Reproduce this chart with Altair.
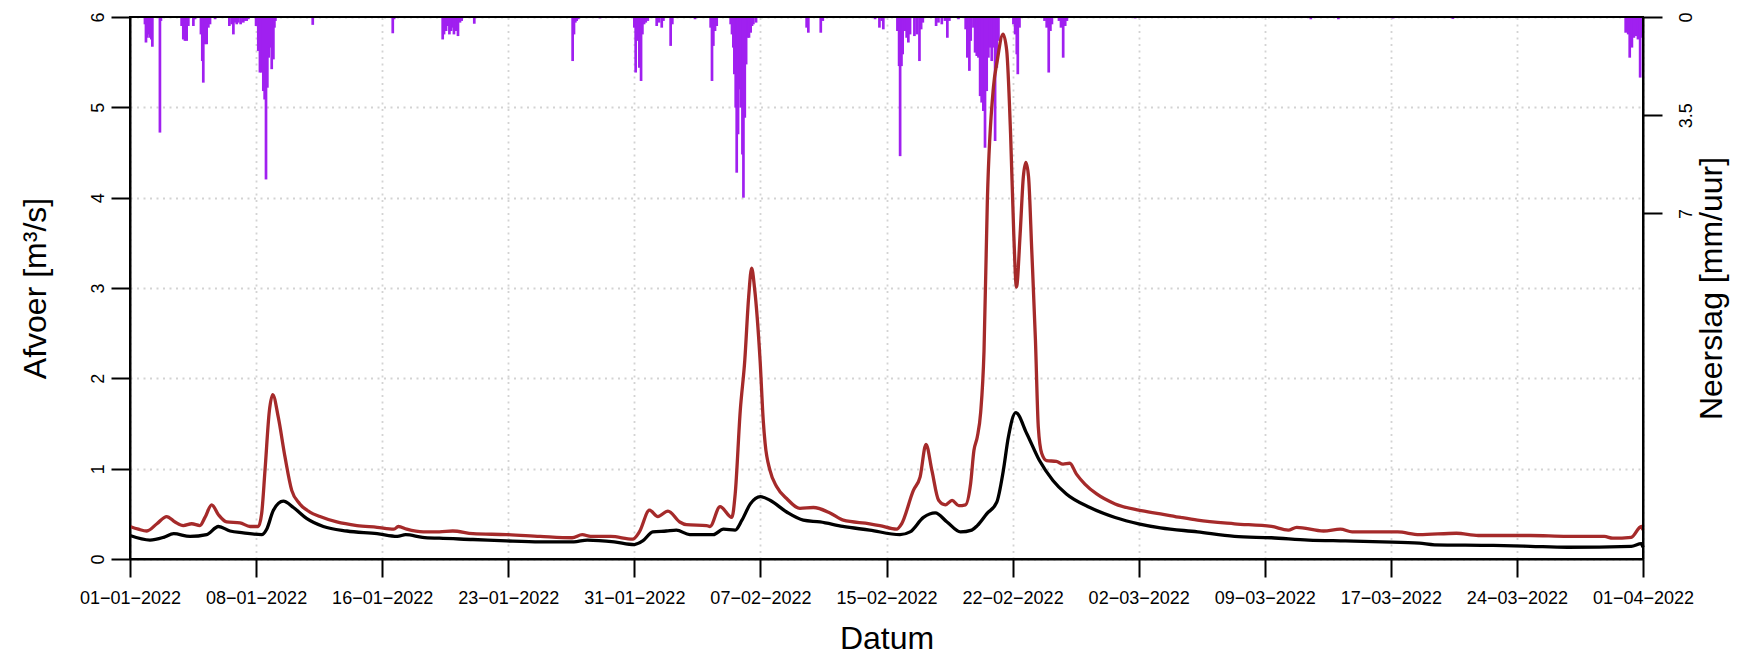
import altair as alt
import pandas as pd

# ---------------- data ----------------
# time = days since 01-01-2022 00:00
# Afvoer, brown series (m3/s)
q_brown_day = [
    0.0, 0.5, 1.0, 1.6, 2.18, 2.68, 3.17, 3.67, 4.16, 4.46,
    4.86, 5.26, 5.75, 6.54, 7.14, 7.63, 7.83, 8.03, 8.29, 8.49,
    8.82, 9.22, 9.62, 10.1, 10.7, 11.3, 12.3, 13.5, 14.7, 15.7,
    15.96, 16.46, 17.45, 18.4, 19.2, 20.4, 22.4, 24.4, 26.3, 26.9,
    27.4, 28.6, 29.9, 30.3, 30.9, 31.4, 32.0, 32.7, 33.1, 34.3,
    34.5, 35.1, 35.8, 36.0, 36.3, 36.57, 36.8, 36.98, 37.15, 37.48,
    37.67, 37.78, 38.07, 38.47, 39.06, 39.85, 40.65, 41.64, 42.43, 44.0,
    44.6, 45.6, 45.9, 46.6, 47.0, 47.35, 47.7, 48.1, 48.5, 48.9,
    49.3, 49.7, 50.0, 50.2, 50.4, 50.6, 50.8, 51.0, 51.36, 51.59,
    51.93, 52.15, 52.38, 52.57, 52.73, 52.95, 53.14, 53.29, 53.45, 53.64,
    53.86, 54.03, 54.23, 54.52, 55.1, 55.5, 55.9, 56.3, 56.8, 57.5,
    58.6, 60.0, 61.3, 62.5, 63.5, 65.7, 67.9, 68.9, 69.4, 71.0,
    72.0, 72.7, 75.4, 76.7, 78.9, 80.2, 83.3, 85.5, 87.7, 88.2,
    89.3, 89.9, 90.0,
]
q_brown_val = [
    0.36, 0.33, 0.31, 0.39, 0.47, 0.41, 0.37, 0.39, 0.37, 0.46,
    0.60, 0.49, 0.41, 0.40, 0.36, 0.36, 0.50, 0.98, 1.64, 1.82,
    1.57, 1.13, 0.76, 0.61, 0.52, 0.47, 0.41, 0.37, 0.35, 0.33,
    0.36, 0.33, 0.30, 0.30, 0.31, 0.28, 0.27, 0.25, 0.235, 0.27,
    0.25, 0.25, 0.22, 0.30, 0.54, 0.47, 0.53, 0.41, 0.38, 0.37,
    0.36, 0.58, 0.46, 0.72, 1.64, 2.2, 2.9, 3.22, 3.0, 2.2,
    1.53, 1.28, 0.98, 0.80, 0.67, 0.56, 0.57, 0.51, 0.43, 0.39,
    0.37, 0.33, 0.39, 0.76, 0.91, 1.27, 0.98, 0.65, 0.60, 0.65,
    0.59, 0.60, 0.83, 1.20, 1.35, 1.62, 2.3, 3.97, 5.22, 5.52,
    5.81, 5.63, 4.71, 3.6, 3.01, 3.6, 4.23, 4.39, 4.23, 3.42,
    2.42, 1.46, 1.17, 1.09, 1.08, 1.05, 1.06, 0.94, 0.83, 0.72,
    0.61, 0.54, 0.50, 0.46, 0.43, 0.39, 0.36, 0.32, 0.35, 0.31,
    0.33, 0.30, 0.30, 0.27, 0.285, 0.26, 0.26, 0.25, 0.25, 0.23,
    0.24, 0.36, 0.32,
]

# Afvoer, black series (m3/s)
q_black_day = [
    0.0, 1.19, 2.0, 2.6, 3.57, 4.56, 5.26, 5.95, 6.74, 7.83,
    8.13, 8.53, 9.12, 9.72, 10.5, 11.5, 12.9, 14.7, 15.9, 16.4,
    17.4, 18.4, 20.4, 22.4, 24.4, 26.4, 27.2, 28.8, 30.0, 30.5,
    31.1, 31.9, 32.5, 33.3, 34.7, 35.3, 36.0, 36.4, 36.9, 37.5,
    38.07, 39.06, 40.05, 41.05, 42.4, 44.0, 45.8, 46.4, 47.2, 47.9,
    48.6, 49.4, 50.07, 50.4, 50.96, 51.56, 51.95, 52.25, 52.69, 53.34,
    54.1, 54.9, 55.7, 57.1, 58.6, 60.0, 61.3, 63.5, 65.7, 67.9,
    70.1, 72.3, 74.5, 76.7, 77.6, 81.1, 83.3, 85.5, 89.3, 89.9,
    90.0,
]
q_black_val = [
    0.26, 0.21, 0.24, 0.28, 0.25, 0.27, 0.36, 0.31, 0.29, 0.27,
    0.33, 0.54, 0.64, 0.57, 0.45, 0.36, 0.31, 0.28, 0.25, 0.27,
    0.24, 0.23, 0.216, 0.20, 0.19, 0.19, 0.21, 0.19, 0.16, 0.20,
    0.30, 0.31, 0.32, 0.27, 0.27, 0.33, 0.32, 0.43, 0.61, 0.69,
    0.65, 0.52, 0.43, 0.41, 0.36, 0.32, 0.27, 0.30, 0.46, 0.51,
    0.41, 0.30, 0.32, 0.37, 0.50, 0.63, 0.98, 1.35, 1.62, 1.39,
    1.09, 0.87, 0.72, 0.57, 0.46, 0.39, 0.345, 0.30, 0.25, 0.235,
    0.21, 0.20, 0.19, 0.175, 0.157, 0.15, 0.14, 0.13, 0.14, 0.17,
    0.13,
]

# Neerslag (mm/uur), January
rain_jan_day = [
    0.89, 0.95, 1.03, 1.11, 1.19, 1.27, 1.33, 1.78, 1.84,
    3.07, 3.17, 3.27, 3.37, 3.47, 3.77, 3.87,
    4.22, 4.30, 4.36, 4.46, 4.56, 4.66, 4.76, 5.06,
    5.91, 6.05, 6.15, 6.25, 6.35, 6.44, 6.58, 6.74, 6.84, 6.94, 7.04,
    7.50, 7.63, 7.73, 7.83, 7.93, 8.01, 8.09, 8.17, 8.25, 8.33, 8.43, 8.53, 8.59, 8.65,
    10.87, 15.63, 15.71,
    18.60, 18.68, 18.80, 18.90, 19.00, 19.10, 19.19, 19.27, 19.39, 19.51, 19.63, 19.73,
    20.48, 26.33, 26.41, 26.49, 26.57, 26.67, 27.96,
    30.00, 30.08, 30.18, 30.30, 30.40, 30.48, 30.58, 30.68, 30.80,
]
rain_jan_mm = [
    0.26, 0.91, 0.74, 0.62, 0.74, 0.80, 1.06, 4.12, 0.14,
    0.32, 0.80, 0.85, 0.85, 0.32, 0.32, 0.08,
    0.62, 1.57, 2.34, 0.97, 0.97, 0.38, 0.26, 0.08,
    0.32, 0.26, 0.62, 0.20, 0.26, 0.20, 0.26, 0.20, 0.14, 0.14, 0.08,
    0.32, 1.21, 1.98, 1.98, 2.64, 2.94, 5.79, 2.52, 1.45, 1.09, 1.86, 1.51, 0.38, 0.14,
    0.28, 0.58, 0.08,
    0.80, 0.62, 0.50, 0.32, 0.62, 0.50, 0.38, 0.62, 0.50, 0.68, 0.20, 0.14,
    0.24, 1.57, 0.62, 0.20, 0.14, 0.08, 0.05,
    0.38, 1.98, 0.85, 1.81, 2.28, 0.62, 0.26, 0.20, 0.14,
]

# Neerslag (mm/uur), February
rain_feb_day = [
    31.33, 31.47, 31.63, 31.73, 32.16, 32.26, 33.61,
    34.54, 34.62, 34.70, 34.80, 34.90,
    35.73, 35.81, 35.89, 35.95, 36.03, 36.09, 36.17, 36.25, 36.33, 36.43,
    36.49, 36.57, 36.65, 36.74, 36.82, 36.92, 37.00, 37.08, 37.24,
    40.25, 40.35, 41.09, 41.21, 44.32, 44.58, 44.72, 44.81,
    45.65, 45.75, 45.81, 45.89, 45.96, 46.10, 46.20, 46.30, 46.40, 46.66,
    46.80, 46.96, 47.06, 47.16,
    47.95, 48.09, 48.29, 48.48, 48.62, 48.74, 49.28,
    49.71, 49.81, 49.93, 50.01, 50.17, 50.27, 50.37, 50.47, 50.57, 50.66,
    50.76, 50.86, 50.96, 51.06, 51.16, 51.26, 51.36, 51.46, 51.56, 51.66,
    52.55, 52.65, 52.75, 52.81, 52.91,
    54.40, 54.53, 54.65, 54.75, 54.84, 55.26, 55.38, 55.51, 55.63, 55.73,
]
rain_feb_mm = [
    0.32, 0.20, 0.38, 0.14, 1.03, 0.26, 0.08,
    0.38, 2.28, 1.03, 0.50, 0.32,
    0.26, 0.62, 1.09, 2.04, 3.23, 5.55, 4.18, 2.58, 3.23, 4.90,
    6.44, 3.59, 1.69, 0.74, 0.74, 0.56, 0.32, 0.26, 0.20,
    0.38, 0.56, 0.56, 0.14, 0.08, 0.38, 0.14, 0.44,
    0.50, 1.75, 4.96, 1.75, 1.33, 0.50, 0.74, 0.91, 0.62, 0.68,
    0.62, 1.57, 0.44, 0.20,
    0.32, 0.20, 0.26, 0.14, 0.74, 0.14, 0.08,
    0.44, 1.45, 1.92, 0.85, 0.38, 1.27, 1.39, 1.45, 2.82, 3.05,
    3.35, 4.66, 2.64, 1.45, 1.09, 1.57, 1.09, 4.42, 1.81, 0.85,
    0.26, 0.62, 1.33, 2.04, 0.38,
    0.14, 0.38, 1.98, 0.50, 0.26, 0.14, 0.38, 1.45, 0.32, 0.14,
]

# Neerslag (mm/uur), March
rain_mar_day = [59.79, 70.24, 71.88, 75.14, 78.69,
                88.97, 89.12, 89.21, 89.34, 89.46, 89.58, 89.70, 89.83, 89.95]
rain_mar_mm = [0.05, 0.08, 0.08, 0.05, 0.07,
               0.56, 0.62, 1.45, 1.09, 0.74, 0.68, 0.80, 2.16, 0.74]

x_tick_days = [0, 7.5, 15, 22.5, 30, 37.5, 45, 52.5, 60, 67.5, 75, 82.5, 90]
afvoer_ticks = [0, 1, 2, 3, 4, 5, 6]
neerslag_ticks = [0, 3.5, 7]
neerslag_max = 19.32  # 3 x maximum hourly rain

# ---------------- tables ----------------
lines_df = pd.concat([
    pd.DataFrame({"dag": q_brown_day, "afvoer": q_brown_val, "reeks": "a"}),
    pd.DataFrame({"dag": q_black_day, "afvoer": q_black_val, "reeks": "b"}),
], ignore_index=True)
rain_df = pd.DataFrame({
    "dag": rain_jan_day + rain_feb_day + rain_mar_day,
    "neerslag": rain_jan_mm + rain_feb_mm + rain_mar_mm,
})

FONT = "Liberation Sans"
W, H = 1513, 542
LBL = 18
TTL = 32

x_scale = alt.Scale(domain=[0, 90], nice=False, zero=False)
x_axis = alt.Axis(
    values=x_tick_days, grid=True, tickSize=18, labelPadding=12, labelFontSize=LBL,
    labelExpr="utcFormat(datum.value * 86400000 + 1640995200000, '%d\u2212%m\u2212%Y')",
    labelFlush=False, labelOverlap=False, labelAlign="center", labelBaseline="top",
    title="Datum", titleX=W / 2, titleY=89, titleAlign="center",
    titleBaseline="alphabetic", titleFontSize=TTL,
)

rain = alt.Chart(rain_df).mark_rule(color="#A020F0", strokeWidth=2.7).encode(
    x=alt.X("dag:Q", scale=x_scale, axis=x_axis),
    y=alt.Y(
        "neerslag:Q",
        scale=alt.Scale(domain=[0, neerslag_max], reverse=True, nice=False, zero=True),
        axis=alt.Axis(
            orient="right", values=neerslag_ticks, format="~g", grid=False,
            tickSize=19, labelPadding=15, labelAngle=270, labelAlign="center",
            labelBaseline="top", labelFontSize=LBL,
            title="Neerslag [mm/uur]", titleAngle=270, titleFontSize=TTL,
            titleX=78, titleY=H / 2, titleAlign="center", titleBaseline="alphabetic",
        ),
    ),
    y2=alt.datum(0),
)

lines = alt.Chart(lines_df).mark_line(strokeWidth=3.3, interpolate="monotone").encode(
    x=alt.X("dag:Q", scale=x_scale, axis=x_axis),
    y=alt.Y(
        "afvoer:Q",
        scale=alt.Scale(domain=[0, 6], nice=False, zero=True),
        axis=alt.Axis(
            orient="left", values=afvoer_ticks, format="d", grid=True,
            tickSize=19, labelPadding=4, labelAngle=270, labelAlign="center",
            labelBaseline="bottom", labelFontSize=LBL,
            title="Afvoer [m\u00b3/s]", titleAngle=270, titleFontSize=TTL,
            titleX=-85, titleY=H / 2, titleAlign="center", titleBaseline="alphabetic",
        ),
    ),
    color=alt.Color("reeks:N", scale=alt.Scale(domain=["a", "b"], range=["#A52A2A", "#000000"]),
                    legend=None),
)

# frame around the plot area, drawn on top of the grid
frame = alt.Chart(alt.Data(values=[{}])).mark_rect(
    fillOpacity=0, stroke="black", strokeWidth=2
).encode(
    x=alt.value(0), x2=alt.value("width"), y=alt.value(0), y2=alt.value("height"),
)

chart = alt.layer(rain, lines, frame).resolve_scale(y="independent").properties(
    width=W, height=H,
    padding={"left": 122, "top": 9, "right": 90, "bottom": 97},
    autosize="none",
).configure_view(
    strokeWidth=0,
).configure_axis(
    labelFont=FONT, titleFont=FONT, labelFontSize=LBL, titleFontSize=TTL,
    titleFontWeight="normal", labelColor="black", titleColor="black",
    domainColor="black", tickColor="black", domainWidth=2, tickWidth=2,
    gridColor="#D3D3D3", gridDash=[2, 4.5], gridWidth=1.8,
)

chart.save("out.html", embed_options={"renderer": "svg", "actions": False})
